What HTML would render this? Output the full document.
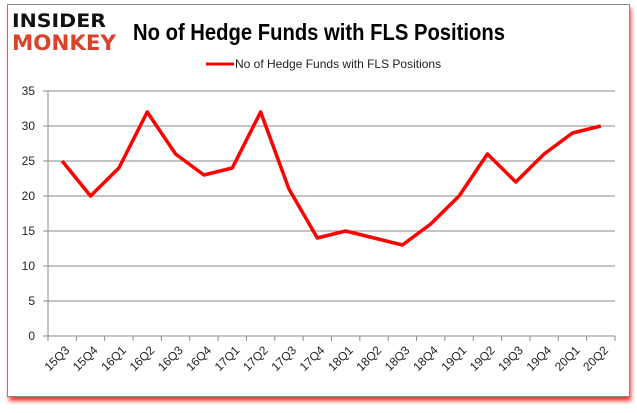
<!DOCTYPE html>
<html><head><meta charset="utf-8"><style>
body{margin:0;width:637px;height:408px;background:#fff;overflow:hidden;font-family:"Liberation Sans",sans-serif}
</style></head><body>
<svg width="637" height="408">
<defs><filter id="sh" x="-5%" y="-5%" width="110%" height="115%"><feGaussianBlur stdDeviation="2"/></filter></defs>
<rect x="9" y="8" width="622" height="393" fill="#f00" opacity="0.8" filter="url(#sh)"/>
<rect x="7.5" y="4.5" width="622" height="392" fill="#fff" stroke="#888"/>
<g font-family="'DejaVu Sans',sans-serif" font-weight="bold">
<text x="12" y="27" font-size="19" fill="#111" textLength="94" lengthAdjust="spacingAndGlyphs">INSIDER</text>
<text x="12" y="50" font-size="21" fill="#d9432b" textLength="104" lengthAdjust="spacingAndGlyphs">MONKEY</text>
</g>
<text x="133" y="40" font-size="23" font-weight="bold" fill="#000" textLength="372" lengthAdjust="spacingAndGlyphs">No of Hedge Funds with FLS Positions</text>
<line x1="206" y1="64" x2="234" y2="64" stroke="#f00" stroke-width="3"/>
<text x="235" y="68" font-size="12" fill="#222">No of Hedge Funds with FLS Positions</text>
<g id="grid"></g><g id="axes"></g><g id="series"></g>
</svg>
<script>
const categories=["15Q3","15Q4","16Q1","16Q2","16Q3","16Q4","17Q1","17Q2","17Q3","17Q4","18Q1","18Q2","18Q3","18Q4","19Q1","19Q2","19Q3","19Q4","20Q1","20Q2"];
const values=[25,20,24,32,26,23,24,32,21,14,15,14,13,16,20,26,22,26,29,30];
const yTicks=[0,5,10,15,20,25,30,35];
const NS="http://www.w3.org/2000/svg";
const L=48,R=615,T=91,B=336,YMAX=35;
const step=(R-L)/categories.length;
const x=i=>L+step*(i+0.5);
const y=v=>B-(v/YMAX)*(B-T);
function mk(t,a,p){const e=document.createElementNS(NS,t);for(const k in a)e.setAttribute(k,a[k]);document.getElementById(p).appendChild(e);return e;}
yTicks.forEach(v=>{
 const g=mk("line",{x1:L-5,x2:R,y1:y(v),y2:y(v),stroke:"#888","stroke-width":1},"grid");
 
 
 const t=mk("text",{x:L-13,y:y(v)+4,"text-anchor":"end","font-size":12,fill:"#222"},"axes");
 t.textContent=v;
 
 
});
const ax=mk("line",{x1:L,x2:L,y1:T,y2:B+5,stroke:"#888"},"axes");


categories.forEach((c,i)=>{
 const tk=mk("line",{x1:L+step*(i+1),x2:L+step*(i+1),y1:B,y2:B+5,stroke:"#888"},"axes");
 
 
 const ax_=x(i)+8, ay=B+15;
 const t=mk("text",{x:ax_,y:ay,"text-anchor":"end","font-size":12,fill:"#222",transform:`rotate(-45 ${ax_} ${ay})`},"axes");
 t.textContent=c;
 
 
});
const p=mk("polyline",{points:values.map((v,i)=>x(i)+","+y(v)).join(" "),fill:"none",stroke:"#f00","stroke-width":3.5,"stroke-linejoin":"round"},"series");


</script>
</body></html>
